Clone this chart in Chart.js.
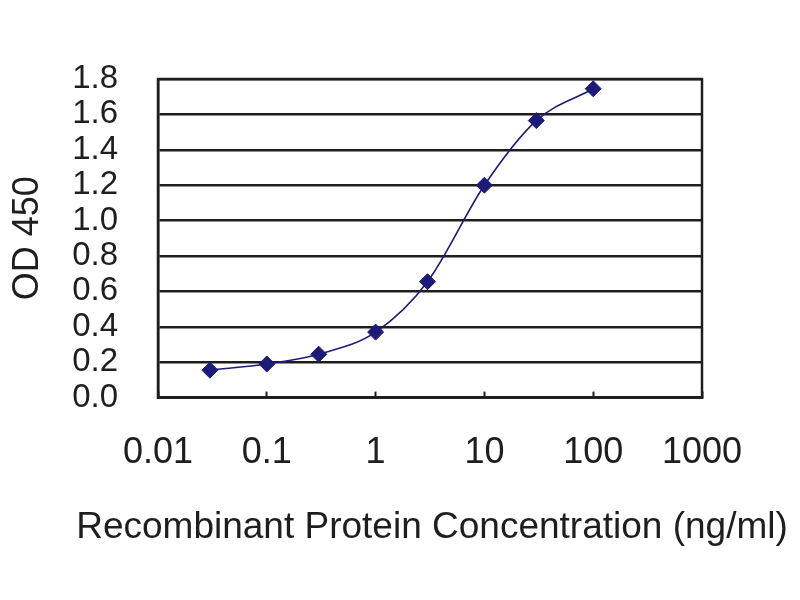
<!DOCTYPE html>
<html>
<head>
<meta charset="utf-8">
<script src="https://cdn.jsdelivr.net/npm/chart.js@4.4.1/dist/chart.umd.min.js"></script>
<style>
  html, body { margin: 0; padding: 0; background: #ffffff; }
  #wrap { width: 800px; height: 600px; position: relative; }
</style>
</head>
<body>
<div id="wrap"><canvas id="c" width="800" height="600"></canvas></div>
<script>
// ---- data ----
const concentrations = [0.03, 0.1, 0.3, 1, 3, 10, 30, 100];
const od450 = [0.155, 0.19, 0.245, 0.37, 0.655, 1.2, 1.565, 1.745];
const xTickValues = [0.01, 0.1, 1, 10, 100, 1000];
const xTickLabels = ['0.01', '0.1', '1', '10', '100', '1000'];
const yTickValues = [0, 0.2, 0.4, 0.6, 0.8, 1.0, 1.2, 1.4, 1.6, 1.8];
const yTickLabels = ['0.0', '0.2', '0.4', '0.6', '0.8', '1.0', '1.2', '1.4', '1.6', '1.8'];
const xTitle = 'Recombinant Protein Concentration (ng/ml)';
const yTitle = 'OD 450';

const points = concentrations.map((x, i) => ({ x: x, y: od450[i] }));
const navy = '#1c1c78';
const ink = '#1e1e1e';
const fontFamily = 'Liberation Sans, Arial, sans-serif';

const frame = {
  id: 'frame',
  afterDatasetsDraw(chart) {
    const a = chart.chartArea, ctx = chart.ctx;
    ctx.save();
    ctx.strokeStyle = ink;
    ctx.lineWidth = 2.5;
    ctx.strokeRect(a.left, a.top, a.right - a.left, a.bottom - a.top);
    ctx.restore();
  }
};

new Chart(document.getElementById('c'), {
  type: 'line',
  data: {
    datasets: [{
      data: points,
      borderColor: navy,
      backgroundColor: navy,
      borderWidth: 1.6,
      pointStyle: 'rectRot',
      pointRadius: 8,
      pointBorderWidth: 1,
      pointBorderColor: navy,
      pointBackgroundColor: navy,
      cubicInterpolationMode: 'monotone',
      fill: false,
      yAxisID: 'y'
    }]
  },
  options: {
    responsive: false,
    animation: false,
    devicePixelRatio: 1,
    layout: { padding: { left: 64, right: 0, top: 79, bottom: 0 } },
    plugins: {
      legend: { display: false },
      tooltip: { enabled: false },
      title: {
        display: true,
        position: 'bottom',
        text: xTitle,
        color: ink,
        font: { family: fontFamily, size: 37, weight: 'normal' },
        padding: { top: 0, bottom: 50 }
      }
    },
    scales: {
      x: {
        type: 'logarithmic',
        min: 0.01,
        max: 1000,
        afterBuildTicks(scale) { scale.ticks = xTickValues.map(v => ({ value: v })); },
        afterFit(scale) { scale.height = 108; },
        grid: {
          display: true,
          drawOnChartArea: false,
          drawTicks: true,
          tickLength: -6,
          tickColor: ink,
          tickWidth: 2
        },
        border: { display: true, color: ink, width: 2.5 },
        ticks: {
          autoSkip: false,
          maxRotation: 0,
          padding: 40,
          color: ink,
          font: { family: fontFamily, size: 36 },
          callback: (v, i) => xTickLabels[i]
        },
        title: { display: false }
      },
      y: {
        type: 'linear',
        position: 'left',
        min: 0,
        max: 1.8,
        afterBuildTicks(scale) { scale.ticks = yTickValues.map(v => ({ value: v })); },
        afterFit(scale) { scale.width = 94; },
        grid: {
          display: true,
          drawOnChartArea: true,
          drawTicks: false,
          color: ink,
          lineWidth: 2.5
        },
        border: { display: true, color: ink, width: 2.5 },
        ticks: {
          autoSkip: false,
          padding: 40,
          color: ink,
          font: { family: fontFamily, size: 33 },
          callback: (v, i) => yTickLabels[i]
        },
        title: {
          display: true,
          text: yTitle,
          color: ink,
          font: { family: fontFamily, size: 36 },
          padding: { top: -57.6, bottom: 0 }
        }
      },
      yRight: {
        type: 'linear',
        position: 'right',
        min: 0,
        max: 1.8,
        afterFit(scale) { scale.width = 98; },
        grid: { display: false, drawTicks: false },
        border: { display: false },
        ticks: { display: false },
        title: { display: false }
      }
    }
  },
  plugins: [frame]
});
</script>
</body>
</html>
